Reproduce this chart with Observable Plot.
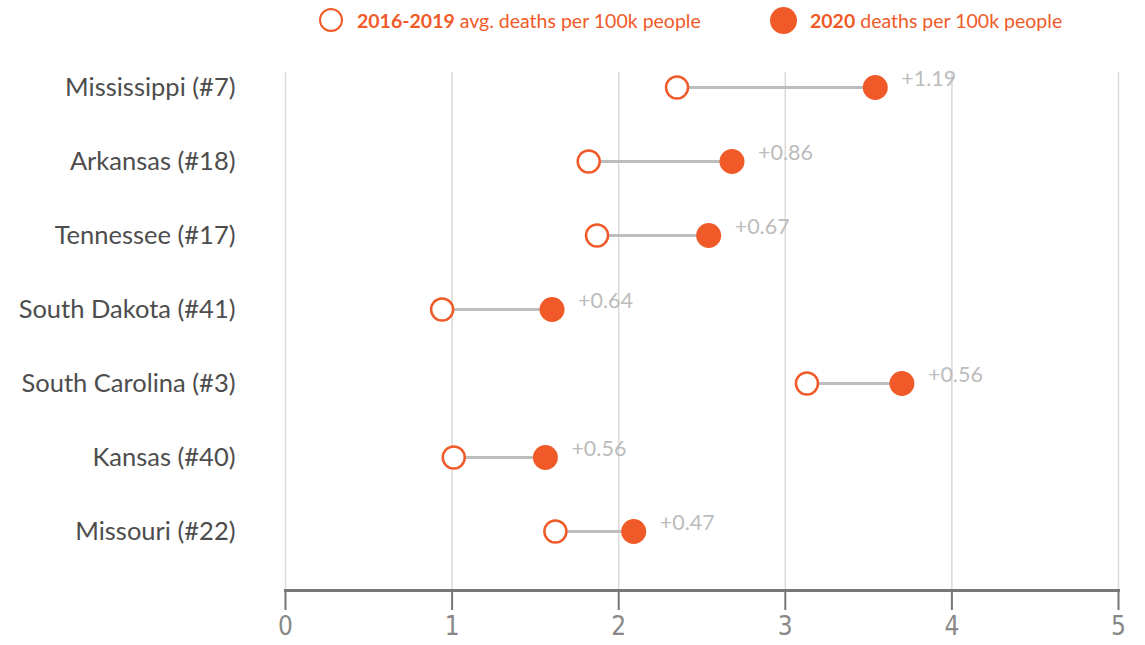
<!DOCTYPE html>
<html>
<head>
<meta charset="utf-8">
<script src="https://cdn.jsdelivr.net/npm/d3@7"></script>
<script src="https://cdn.jsdelivr.net/npm/@observablehq/plot@0.6"></script>
<style>
  body { margin: 0; background: #fff; font-family: Lato, "Noto Sans", sans-serif; }
  #legend { position: relative; height: 40px; width: 1145px; }
  .item { position: absolute; top: 0; height: 40px; display: flex; align-items: center; color: #f05a28; font-size: 19.5px; }
  .item b { font-weight: 700; margin-right: 5px; }
  .sw { display: inline-block; width: 24px; height: 24px; border-radius: 50%; box-sizing: border-box; margin-right: 14px; }
</style>
</head>
<body>
<div id="legend">
  <div class="item" style="left:319px"><span class="sw" style="border:2.5px solid #f05a28;background:#fff"></span><b>2016-2019</b>avg. deaths per 100k people</div>
  <div class="item" style="left:770px"><span class="sw" style="width:27px;height:27px;background:#f05a28;margin-right:13px"></span><b>2020</b>deaths per 100k people</div>
</div>
<div id="chart"></div>
<script>
const states = ["Mississippi (#7)", "Arkansas (#18)", "Tennessee (#17)", "South Dakota (#41)", "South Carolina (#3)", "Kansas (#40)", "Missouri (#22)"];
const avg2016_2019 = [2.35, 1.82, 1.87, 0.94, 3.13, 1.01, 1.62];
const deaths2020 = [3.54, 2.68, 2.54, 1.60, 3.70, 1.56, 2.09];
const changeLabels = ["+1.19", "+0.86", "+0.67", "+0.64", "+0.56", "+0.56", "+0.47"];
const xTicks = [0, 1, 2, 3, 4, 5];

const orange = "#f05a28";
const data = states.map((s, i) => ({state: s, a: avg2016_2019[i], b: deaths2020[i], label: changeLabels[i]}));

const chart = Plot.plot({
  width: 1145,
  height: 605,
  marginLeft: 285,
  marginRight: 27,
  marginTop: 32,
  marginBottom: 55,
  style: {fontFamily: "Lato, sans-serif", background: "#fff", overflow: "visible"},
  x: {domain: [0, 5], ticks: xTicks},
  y: {type: "point", domain: states, range: [46, 492], padding: 0},
  marks: [
    Plot.gridX(xTicks, {stroke: "#d9d9d9", strokeOpacity: 1, strokeWidth: 1.5}),
    Plot.axisX(xTicks, {tickSize: 20, tickPadding: 6, stroke: "#777", strokeWidth: 2, fontSize: 26, fill: "#888",
      fontFamily: "'Liberation Sans Narrow', 'DejaVu Sans Condensed', sans-serif", tickFormat: d => String(d), label: null}),
    Plot.frame({anchor: "bottom", stroke: "#777", strokeWidth: 3}),
    Plot.axisY({tickSize: 0, tickPadding: 50, fontSize: 25.5, fill: "#4d4d4d", label: null}),
    Plot.link(data, {x1: "a", x2: "b", y1: "state", y2: "state", stroke: "#bdbdbd", strokeWidth: 3}),
    Plot.dot(data, {x: "a", y: "state", r: 11, stroke: orange, strokeWidth: 2.5, fill: "#fff"}),
    Plot.dot(data, {x: "b", y: "state", r: 12.5, fill: orange, stroke: "none"}),
    Plot.text(data, {x: "b", y: "state", text: "label", dx: 26, dy: -8, textAnchor: "start", fontSize: 21.5, fill: "#bcbcbc"})
  ]
});
document.getElementById("chart").appendChild(chart);
</script>
</body>
</html>
